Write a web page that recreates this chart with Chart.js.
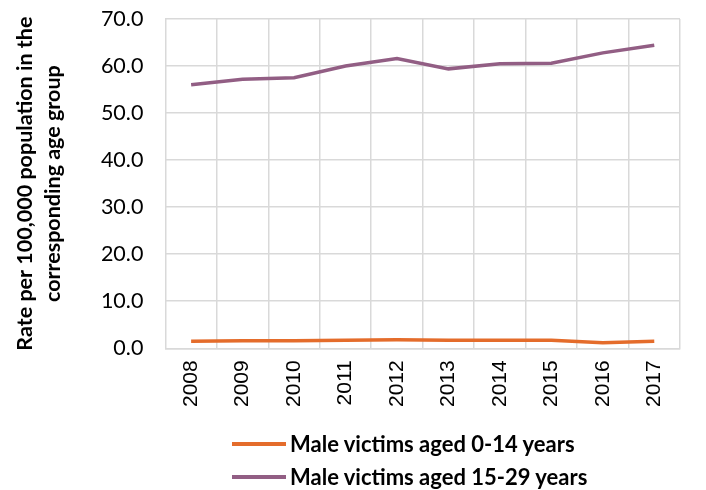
<!DOCTYPE html>
<html>
<head>
<meta charset="utf-8">
<script src="https://cdn.jsdelivr.net/npm/chart.js@4.4.1/dist/chart.umd.min.js"></script>
<style>
  body { margin: 0; background: #fff; }
  #wrap { position: relative; width: 706px; height: 490px; }
  #legend { position: absolute; left: 232px; top: 427px; font-family: Lato, "Open Sans", sans-serif; font-weight: bold; font-size: 22px; color: #000; }
  .item { display: flex; align-items: center; height: 33px; }
  .swatch { width: 54px; height: 4px; margin-right: 4px; }
</style>
</head>
<body>
<div id="wrap">
  <canvas id="c" width="706" height="490"></canvas>
  <div id="legend"></div>
</div>
<script>
const years = ['2008', '2009', '2010', '2011', '2012', '2013', '2014', '2015', '2016', '2017'];
const aged0to14 = [1.5, 1.6, 1.6, 1.7, 1.8, 1.7, 1.7, 1.7, 1.2, 1.5];
const aged15to29 = [56.0, 57.2, 57.5, 60.0, 61.6, 59.4, 60.5, 60.6, 62.8, 64.4];
const seriesNames = ['Male victims aged 0-14 years', 'Male victims aged 15-29 years'];
const colors = ['#e46c2b', '#925e84'];

const font = 'Lato, "Open Sans", sans-serif';

const chart = new Chart(document.getElementById('c'), {
  type: 'line',
  data: {
    labels: years,
    datasets: [
      { label: seriesNames[0], data: aged0to14, borderColor: colors[0], backgroundColor: colors[0] },
      { label: seriesNames[1], data: aged15to29, borderColor: colors[1], backgroundColor: colors[1] }
    ]
  },
  options: {
    responsive: false,
    animation: false,
    layout: { padding: { top: 0, right: 26, bottom: 71, left: 11 } },
    elements: {
      line: { borderWidth: 3.5, tension: 0 },
      point: { radius: 0 }
    },
    plugins: {
      legend: { display: false },
      tooltip: { enabled: false }
    },
    scales: {
      x: {
        offset: true,
        grid: { offset: true, color: '#d9d9d9', lineWidth: 1.5, drawTicks: false },
        border: { color: '#d9d9d9', width: 1.5 },
        ticks: { color: '#000', font: { family: '"Liberation Sans", Arial, sans-serif', size: 21 }, minRotation: 90, maxRotation: 90, padding: 12 }
      },
      y: {
        min: 0,
        max: 70,
        afterFit: s => { s.paddingTop = 19; },
        grid: { color: '#d9d9d9', lineWidth: 1.5, drawTicks: false },
        border: { display: false },
        ticks: {
          stepSize: 10,
          color: '#000',
          font: { family: font, size: 21.5 },
          padding: 22,
          callback: v => v.toFixed(1)
        },
        title: {
          display: true,
          text: ['Rate per 100,000 population in the', 'corresponding age group'],
          color: '#000',
          font: { family: font, size: 21.5, weight: 'bold', lineHeight: 1.3 },
          padding: { top: 0, bottom: 12 }
        }
      }
    }
  }
});

const legend = document.getElementById('legend');
seriesNames.forEach((name, i) => {
  const row = document.createElement('div');
  row.className = 'item';
  const sw = document.createElement('span');
  sw.className = 'swatch';
  sw.style.background = colors[i];
  const tx = document.createElement('span');
  tx.textContent = name;
  row.appendChild(sw);
  row.appendChild(tx);
  legend.appendChild(row);
});
</script>
</body>
</html>
